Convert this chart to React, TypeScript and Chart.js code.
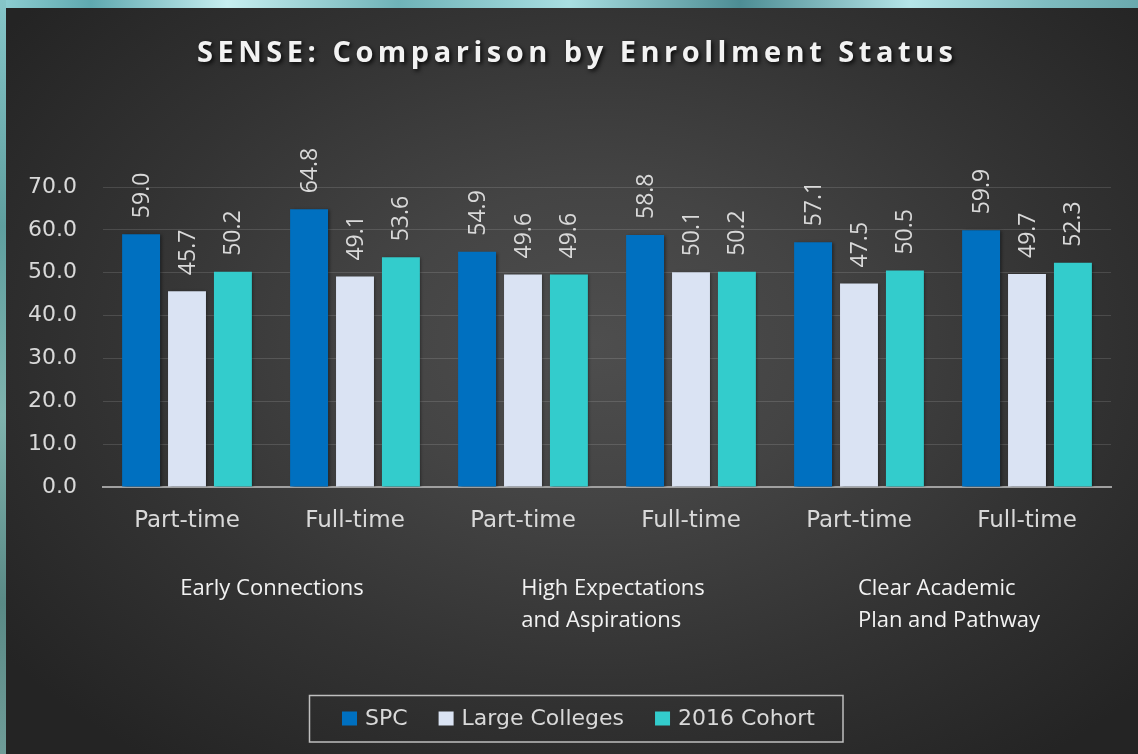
import React, { useEffect, useRef } from "react";
import { Chart, registerables } from "chart.js";

Chart.register(...registerables);

const chartTitle = "SENSE: Comparison by Enrollment Status";
const categories = ["Part-time", "Full-time", "Part-time", "Full-time", "Part-time", "Full-time"];
const groupLabels = [
  ["Early Connections"],
  ["High Expectations", "and Aspirations"],
  ["Clear Academic", "Plan and Pathway"],
];
const seriesNames = ["SPC", "Large Colleges", "2016 Cohort"];
const spcValues = [59.0, 64.8, 54.9, 58.8, 57.1, 59.9];
const largeCollegesValues = [45.7, 49.1, 49.6, 50.1, 47.5, 49.7];
const cohortValues = [50.2, 53.6, 49.6, 50.2, 50.5, 52.3];
const seriesColors = ["#0070C0", "#DAE3F3", "#33CCCC"];
const yMin = 0;
const yMax = 70;
const yStep = 10;

const TEXT = "#d9d9d9";

const decorPlugin = {
  id: "decor",
  beforeDatasetsDraw(chart: any) {
    const ctx = chart.ctx;
    ctx.save();
    ctx.shadowColor = "rgba(0,0,0,0.45)";
    ctx.shadowBlur = 3;
    ctx.shadowOffsetX = 1.5;
    ctx.shadowOffsetY = 1;
  },
  afterDatasetsDraw(chart: any) {
    const ctx = chart.ctx;
    ctx.restore();
    // data labels
    ctx.save();
    ctx.fillStyle = TEXT;
    ctx.font = "23px 'Open Sans'";
    ctx.textAlign = "left";
    ctx.textBaseline = "middle";
    chart.data.datasets.forEach((ds: any, di: number) => {
      const meta = chart.getDatasetMeta(di);
      meta.data.forEach((el: any, i: number) => {
        ctx.save();
        ctx.translate(el.x + 1, el.y - 16);
        ctx.rotate(-Math.PI / 2);
        ctx.fillText(Number(ds.data[i]).toFixed(1), 0, 0);
        ctx.restore();
      });
    });
    ctx.restore();
  },
  afterDraw(chart: any) {
    const ctx = chart.ctx;
    const xs = chart.scales.x;

    // title with letter spacing
    ctx.save();
    ctx.font = "bold 29px 'Open Sans'";
    ctx.fillStyle = "#f2f2f2";
    ctx.textBaseline = "alphabetic";
    ctx.textAlign = "left";
    ctx.shadowColor = "rgba(0,0,0,0.85)";
    ctx.shadowBlur = 4;
    ctx.shadowOffsetX = 2;
    ctx.shadowOffsetY = 2;
    const chars = chartTitle.split("");
    const targetW = 756;
    const raw = chars.reduce((s, c) => s + ctx.measureText(c).width, 0);
    const sp = (targetW - raw) / (chars.length - 1);
    let tx = 575 - targetW / 2;
    chars.forEach((c) => {
      ctx.fillText(c, tx, 62);
      tx += ctx.measureText(c).width + sp;
    });
    ctx.restore();

    // group labels
    ctx.save();
    ctx.font = "22px 'Open Sans'";
    ctx.fillStyle = "#f2f2f2";
    ctx.textAlign = "left";
    ctx.textBaseline = "alphabetic";
    groupLabels.forEach((lines, g) => {
      const c = (xs.getPixelForValue(2 * g) + xs.getPixelForValue(2 * g + 1)) / 2;
      const w = Math.max(...lines.map((l) => ctx.measureText(l).width));
      const left = c - w / 2 + (lines.length > 1 ? 6 : 1);
      lines.forEach((l, li) => {
        ctx.fillText(l, left, 595 + li * 32);
      });
    });
    ctx.restore();

    // legend
    ctx.save();
    ctx.strokeStyle = "#bfbfbf";
    ctx.lineWidth = 1.5;
    ctx.strokeRect(309.5, 695.5, 533.5, 46.5);
    ctx.font = "22px 'DejaVu Sans'";
    ctx.textBaseline = "alphabetic";
    ctx.textAlign = "left";
    let lx = 342;
    seriesNames.forEach((name, i) => {
      ctx.fillStyle = seriesColors[i];
      ctx.fillRect(lx, 711.5, 15, 14);
      ctx.fillStyle = TEXT;
      ctx.fillText(name, lx + 23, 725);
      lx += 23 + ctx.measureText(name).width + 31;
    });
    ctx.restore();
  },
};

export default function App() {
  const ref = useRef<HTMLCanvasElement | null>(null);

  useEffect(() => {
    if (!ref.current) return;
    const chart = new Chart(ref.current, {
      type: "bar",
      data: {
        labels: categories,
        datasets: [
          { label: seriesNames[0], data: spcValues, backgroundColor: seriesColors[0] },
          { label: seriesNames[1], data: largeCollegesValues, backgroundColor: seriesColors[1] },
          { label: seriesNames[2], data: cohortValues, backgroundColor: seriesColors[2] },
        ],
      },
      options: {
        responsive: false,
        animation: false,
        devicePixelRatio: 1,
        layout: { padding: { top: 187, left: 0, right: 27, bottom: 217 } },
        datasets: { bar: { categoryPercentage: 0.82, barPercentage: 0.826 } },
        plugins: {
          legend: { display: false },
          title: { display: false },
          tooltip: { enabled: false },
        },
        scales: {
          x: {
            grid: { display: false, drawTicks: false },
            border: { display: true, color: "#a0a0a0", width: 2 },
            ticks: {
              color: TEXT,
              font: { family: "'DejaVu Sans'", size: 23 },
              padding: 20,
              maxRotation: 0,
              autoSkip: false,
            },
            afterFit: (s: any) => {
              s.height = 50;
            },
          },
          y: {
            min: yMin,
            max: yMax,
            grid: { color: "rgba(255,255,255,0.13)", drawTicks: false, lineWidth: 1 },
            border: { display: false },
            ticks: {
              stepSize: yStep,
              color: TEXT,
              font: { family: "'DejaVu Sans'", size: 22 },
              padding: 26,
              callback: (v: any) => Number(v).toFixed(1),
            },
            afterFit: (s: any) => {
              s.width = 103;
            },
          },
        },
      },
      plugins: [decorPlugin],
    } as any);
    return () => chart.destroy();
  }, []);

  return (
    <div
      style={{
        position: "absolute",
        left: 0,
        top: 0,
        width: 1138,
        height: 754,
        overflow: "hidden",
        background:
          "linear-gradient(180deg, #86c6c9 0%, #5f9f9f 30%, #7fb3ae 55%, #5a8a86 80%, #6f9c98 100%) 0 0 / 6px 100% no-repeat, linear-gradient(90deg, #8fcfd3 0%, #5fa9b0 8%, #c7eef0 20%, #6fb3b8 35%, #a9dfe2 50%, #4d8d94 65%, #b5e5e8 80%, #7fbcc0 92%, #6aa9ae 100%)",
      }}
    >
      <div
        style={{
          position: "absolute",
          left: 6,
          top: 8,
          width: 1132,
          height: 746,
          background:
            "radial-gradient(ellipse 65% 70% at 52% 45%, #4e4e4e 0%, #444444 30%, #333333 65%, #242424 100%)",
        }}
      />
      <canvas
        ref={ref}
        width={1138}
        height={754}
        style={{ position: "absolute", left: 0, top: 0, width: 1138, height: 754 }}
      />
    </div>
  );
}
